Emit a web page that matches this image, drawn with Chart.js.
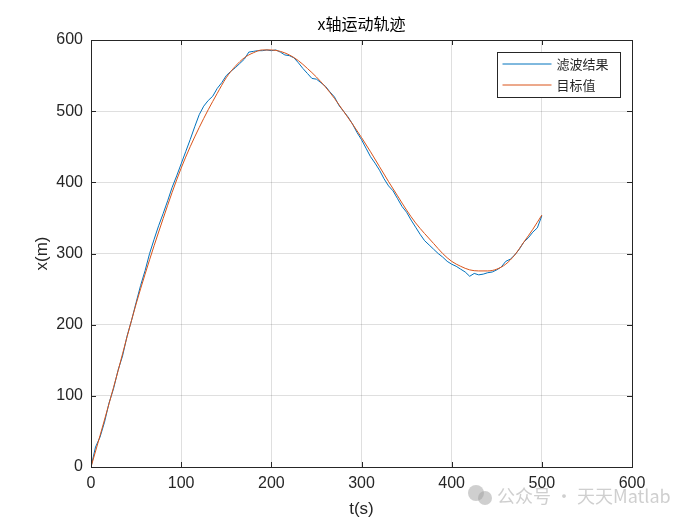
<!DOCTYPE html>
<html>
<head>
<meta charset="utf-8">
<script src="https://cdn.jsdelivr.net/npm/chart.js@4.4.0/dist/chart.umd.min.js"></script>
<style>
  html, body { margin: 0; padding: 0; background: #fff; }
  #wrap { width: 700px; height: 525px; }
</style>
</head>
<body>
<div id="wrap"><canvas id="chart" width="700" height="525"></canvas></div>
<script>
// chart text
const titleText = "x轴运动轨迹";
const xAxisLabel = "t(s)";
const yAxisLabel = "x(m)";
const seriesNames = ["滤波结果", "目标值"];
const seriesColors = ["#0072BD", "#D95319"];

// ticks
const xTicks = [0, 100, 200, 300, 400, 500, 600];
const yTicks = [0, 100, 200, 300, 400, 500, 600];

// target trajectory (every 10 s)
const targetT = [0, 10, 20, 30, 40, 50, 60, 70, 80, 90, 100, 110, 120, 130, 140, 150, 160, 170, 180, 190,
  200, 210, 220, 230, 240, 250, 260, 270, 280, 290, 300, 310, 320, 330, 340, 350, 360, 370, 380, 390,
  400, 410, 420, 430, 440, 450, 460, 470, 480, 490, 500];
const targetX = [0, 44, 89, 135, 183, 229, 271, 311, 349, 386, 420, 450, 477, 502, 525, 547, 563, 575, 582, 586,
  586, 584, 579, 571, 560, 548, 534, 518, 500, 482, 463, 443, 422, 401, 381, 361, 343, 328, 314, 300,
  289, 282, 277, 275.5, 275.5, 278, 285, 298, 316, 334, 354];

// filter output (every 5 s)
const filterT = [0, 5, 10, 15, 20, 25, 30, 35, 40, 45, 50, 55, 60, 65, 70, 75, 80, 85, 90, 95,
  100, 105, 110, 115, 120, 125, 130, 135, 140, 145, 150, 155, 160, 165, 170, 175, 180, 185, 190, 195,
  200, 205, 210, 215, 220, 225, 230, 235, 240, 245, 250, 255, 260, 265, 270, 275, 280, 285, 290, 295,
  300, 305, 310, 315, 320, 325, 330, 335, 340, 345, 350, 355, 360, 365, 370, 375, 380, 385, 390, 395,
  400, 405, 410, 415, 420, 425, 430, 435, 440, 445, 450, 455, 460, 465, 470, 475, 480, 485, 490, 495, 500];
const filterX = [0, 28, 42, 63, 90, 110, 136, 156, 184, 206, 231, 255, 276, 300, 320, 339, 356, 374, 393, 409,
  426, 443, 460, 478, 495, 507, 515, 521, 532, 540, 550, 556, 561, 567, 573, 583, 584, 585, 585, 586,
  585, 586, 583, 579, 578, 575, 568, 560, 553, 546, 545, 540, 535, 527, 520, 508, 500, 492, 482, 470,
  460, 448, 436, 427, 417, 405, 395, 388, 377, 366, 358, 347, 337, 327, 318, 312, 306, 300, 295, 289,
  285, 282, 278, 274, 268, 272, 270, 271, 273, 274, 277, 281, 289, 292, 298, 306, 316, 322, 330, 336, 353];

const axisColor = "#262626";
const baseFont = "'Liberation Sans', Arial, sans-serif";
const cjkFont = "'Noto Sans CJK SC', 'Liberation Sans', sans-serif";

// title, labels, mirrored box, inward ticks, legend and watermark
const matlabDecor = {
  id: "matlabDecor",
  afterDraw(chart) {
    const ctx = chart.ctx;
    const a = chart.chartArea;
    const xs = chart.scales.x;
    const ys = chart.scales.y;
    ctx.save();

    // box
    ctx.strokeStyle = axisColor;
    ctx.lineWidth = 1;
    ctx.strokeRect(Math.round(a.left) + 0.5, Math.round(a.top) + 0.5,
      Math.round(a.right - a.left), Math.round(a.bottom - a.top));

    // inward ticks
    ctx.beginPath();
    xTicks.forEach((t) => {
      const px = Math.round(xs.getPixelForValue(t)) + 0.5;
      ctx.moveTo(px, a.bottom); ctx.lineTo(px, a.bottom - 5);
      ctx.moveTo(px, a.top); ctx.lineTo(px, a.top + 5);
    });
    yTicks.forEach((v) => {
      const py = Math.round(ys.getPixelForValue(v)) + 0.5;
      ctx.moveTo(a.left, py); ctx.lineTo(a.left + 5, py);
      ctx.moveTo(a.right, py); ctx.lineTo(a.right - 5, py);
    });
    ctx.stroke();

    // title
    ctx.fillStyle = "#000";
    ctx.font = "16px " + cjkFont;
    ctx.textAlign = "center";
    ctx.textBaseline = "middle";
    ctx.fillText(titleText, (a.left + a.right) / 2, 24);

    // axis labels
    ctx.fillStyle = axisColor;
    ctx.font = "17px " + baseFont;
    ctx.fillText(xAxisLabel, (a.left + a.right) / 2, 509);
    ctx.save();
    ctx.translate(42, (a.top + a.bottom) / 2);
    ctx.rotate(-Math.PI / 2);
    ctx.fillText(yAxisLabel, 0, 0);
    ctx.restore();

    // legend
    const lx = 497.5, ly = 52.5, lw = 123, lh = 45;
    ctx.fillStyle = "#fff";
    ctx.fillRect(lx, ly, lw, lh);
    ctx.strokeStyle = axisColor;
    ctx.strokeRect(lx, ly, lw, lh);
    ctx.font = "13px " + cjkFont;
    ctx.textAlign = "left";
    seriesNames.forEach((name, i) => {
      const yy = ly + 11.5 + i * 21;
      ctx.strokeStyle = seriesColors[i];
      ctx.beginPath();
      ctx.moveTo(lx + 5, yy); ctx.lineTo(lx + 54, yy);
      ctx.stroke();
      ctx.fillStyle = axisColor;
      ctx.fillText(name, lx + 59, yy);
    });

    // watermark
    ctx.fillStyle = "rgba(160,160,160,0.5)";
    ctx.beginPath(); ctx.arc(476, 493, 8, 0, Math.PI * 2); ctx.fill();
    ctx.beginPath(); ctx.arc(485, 498, 7, 0, Math.PI * 2); ctx.fill();
    ctx.font = "18px " + cjkFont;
    ctx.fillText("公众号 · 天天Matlab", 497, 496);

    ctx.restore();
  },
};

const ctx = document.getElementById("chart").getContext("2d");
new Chart(ctx, {
  type: "line",
  data: {
    datasets: [
      {
        label: seriesNames[0],
        data: filterT.map((t, i) => ({ x: t, y: filterX[i] })),
        borderColor: seriesColors[0],
        borderWidth: 1,
        pointRadius: 0,
        tension: 0,
        order: 2,
      },
      {
        label: seriesNames[1],
        data: targetT.map((t, i) => ({ x: t, y: targetX[i] })),
        borderColor: seriesColors[1],
        borderWidth: 1,
        pointRadius: 0,
        cubicInterpolationMode: "monotone",
        order: 1,
      },
    ],
  },
  options: {
    responsive: false,
    animation: false,
    devicePixelRatio: 1,
    layout: { padding: { top: 40, right: 68, left: 0, bottom: 0 } },
    plugins: {
      legend: { display: false },
      tooltip: { enabled: false },
      title: { display: false },
    },
    scales: {
      x: {
        type: "linear",
        min: 0,
        max: 600,
        afterFit: (s) => { s.height = 58; },
        afterBuildTicks: (s) => { s.ticks = xTicks.map((v) => ({ value: v })); },
        ticks: { color: axisColor, font: { size: 16, family: baseFont }, padding: 7, maxRotation: 0 },
        grid: { color: "rgba(38,38,38,0.15)", drawTicks: false },
        border: { color: axisColor },
      },
      y: {
        type: "linear",
        min: 0,
        max: 600,
        afterFit: (s) => { s.width = 91; },
        afterBuildTicks: (s) => { s.ticks = yTicks.map((v) => ({ value: v })); },
        ticks: { color: axisColor, font: { size: 16, family: baseFont }, padding: 8 },
        grid: { color: "rgba(38,38,38,0.15)", drawTicks: false },
        border: { color: axisColor },
      },
    },
  },
  plugins: [matlabDecor],
});
</script>
</body>
</html>
